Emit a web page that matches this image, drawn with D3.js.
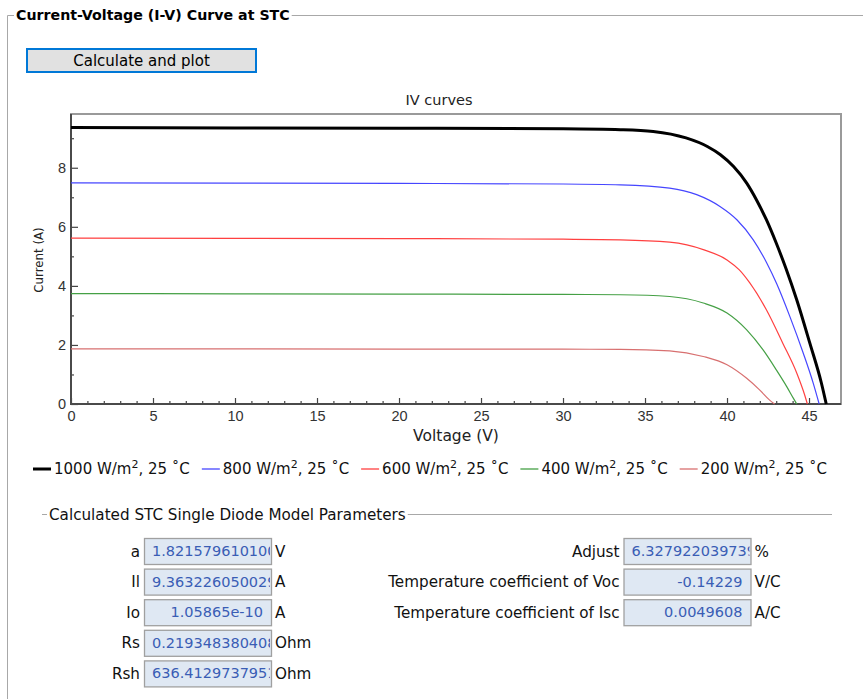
<!DOCTYPE html>
<html>
<head>
<meta charset="utf-8">
<script src="https://cdn.jsdelivr.net/npm/d3@7"></script>
<style>
  body { margin: 0; background: #fff; }
  svg { display: block; font-family: 'DejaVu Sans', 'Open Sans', sans-serif; }
</style>
</head>
<body>
<div id="chart"></div>
<script>
// irradiance levels (W/m2), all at 25 C
const irradiance = [1000, 800, 600, 400, 200];
const cellTemp = 25;

// I-V points: voltage (V) / current (A)
const v1000 = [0, 10, 20, 30, 33.5, 35.5, 37.5, 38.8, 39.6, 40.4, 41.2, 41.8, 42.4, 43.0, 43.6, 44.25, 45.05, 45.75, 46.05];
const i1000 = [9.36, 9.35, 9.34, 9.32, 9.29, 9.23, 9.01, 8.72, 8.44, 8.04, 7.48, 6.91, 6.24, 5.45, 4.58, 3.53, 2.06, 0.72, 0];
const v800 = [0, 10, 20, 30, 33.5, 36.5, 38.15, 39.57, 40.6, 41.6, 42.4, 43.03, 43.84, 44.65, 45.26, 45.62];
const i800 = [7.49, 7.48, 7.47, 7.45, 7.42, 7.31, 7.09, 6.69, 6.24, 5.56, 4.80, 4.07, 2.95, 1.72, 0.70, 0];
const v600 = [0, 10, 20, 30, 33.5, 36.5, 38.6, 40.0, 40.75, 41.4, 42.4, 43.4, 44.25, 44.75, 44.9];
const i600 = [5.62, 5.61, 5.60, 5.58, 5.56, 5.48, 5.22, 4.88, 4.54, 4.09, 3.19, 2.06, 1.05, 0.28, 0];
const v400 = [0, 10, 20, 30, 33.5, 36.5, 38.55, 40.0, 41.2, 42.2, 43.0, 43.65, 44.05, 44.25];
const i400 = [3.74, 3.73, 3.72, 3.71, 3.70, 3.64, 3.42, 3.08, 2.51, 1.83, 1.16, 0.58, 0.19, 0];
const v200 = [0, 10, 20, 30, 33.5, 36.5, 38.55, 40.0, 41.2, 42.0, 42.6, 42.9];
const i200 = [1.87, 1.865, 1.86, 1.855, 1.85, 1.80, 1.61, 1.33, 0.87, 0.47, 0.13, 0];

const xTicks = [0, 5, 10, 15, 20, 25, 30, 35, 40, 45];
const yTicks = [0, 2, 4, 6, 8];

// calculated STC single diode model parameters
const leftParamLabels = ['a', 'Il', 'Io', 'Rs', 'Rsh'];
const leftParamValues = ['1.821579610100', '9.363226050029', '1.05865e-10', '0.219348380408', '636.4129737951'];
const leftParamUnits = ['V', 'A', 'A', 'Ohm', 'Ohm'];
const rightParamLabels = ['Adjust', 'Temperature coefficient of Voc', 'Temperature coefficient of Isc'];
const rightParamValues = ['6.327922039739', '-0.14229', '0.0049608'];
const rightParamUnits = ['%', 'V/C', 'A/C'];

const plotWidth = 863;
const plotHeight = 699;
const box = { left: 71, right: 841, top: 114, bottom: 404 };
const lineColors = ['#000000', '#4646ff', '#ff4040', '#45a045', '#d87070'];
const lineWidths = [3, 1.2, 1.2, 1.2, 1.2];

const curves = [
  { v: v1000, i: i1000 },
  { v: v800, i: i800 },
  { v: v600, i: i600 },
  { v: v400, i: i400 },
  { v: v200, i: i200 },
];

const svg = d3
  .select('#chart')
  .append('svg')
  .attr('width', plotWidth)
  .attr('height', plotHeight);

// outer group box with bold caption
const caption = svg
  .append('text')
  .attr('x', 16)
  .attr('y', 20)
  .attr('font-size', '14.2px')
  .attr('font-weight', 'bold')
  .attr('fill', '#000')
  .text('Current-Voltage (I-V) Curve at STC');
const captionEnd = 16 + caption.node().getComputedTextLength();
svg
  .append('path')
  .attr('d', 'M7.5,699V15.5H14M' + (captionEnd + 2) + ',15.5H863')
  .attr('fill', 'none')
  .attr('stroke', '#a8a8a8');

// button
svg
  .append('rect')
  .attr('x', 27)
  .attr('y', 49)
  .attr('width', 229)
  .attr('height', 23)
  .attr('fill', '#e1e1e1')
  .attr('stroke', '#0078d7')
  .attr('stroke-width', 2);
svg
  .append('text')
  .attr('x', 141.5)
  .attr('y', 66)
  .attr('text-anchor', 'middle')
  .attr('font-size', '15px')
  .attr('fill', '#000')
  .text('Calculate and plot');

// ---- plot ----
const xScale = d3.scaleLinear().domain([0, 46.95]).range([box.left, box.right]);
const yScale = d3.scaleLinear().domain([0, 9.82]).range([box.bottom, box.top]);

svg
  .append('text')
  .attr('x', 439)
  .attr('y', 105)
  .attr('text-anchor', 'middle')
  .attr('font-size', '14.5px')
  .attr('fill', '#222')
  .text('IV curves');

// frame (top/right lighter)
svg
  .append('rect')
  .attr('x', box.left)
  .attr('y', box.top)
  .attr('width', box.right - box.left)
  .attr('height', box.bottom - box.top)
  .attr('fill', '#fff')
  .attr('stroke', '#9a9a9a')
  .attr('stroke-width', 2);

const minorX = d3.range(0, 47, 1).filter((d) => d % 5 !== 0);
const minorY = [1, 3, 5, 7, 9];

svg
  .append('g')
  .attr('class', 'axis')
  .attr('transform', 'translate(0,' + box.bottom + ')')
  .call(d3.axisBottom(xScale).tickValues(minorX).tickSize(-3).tickFormat(''));
svg
  .append('g')
  .attr('class', 'axis')
  .attr('transform', 'translate(' + box.left + ',0)')
  .call(d3.axisLeft(yScale).tickValues(minorY).tickSize(-3).tickFormat(''));

svg
  .append('g')
  .attr('class', 'axis')
  .attr('id', 'x-axis')
  .attr('transform', 'translate(0,' + box.bottom + ')')
  .call(d3.axisBottom(xScale).tickValues(xTicks).tickSize(-6).tickPadding(7));
svg
  .append('g')
  .attr('class', 'axis')
  .attr('id', 'y-axis')
  .attr('transform', 'translate(' + box.left + ',0)')
  .call(d3.axisLeft(yScale).tickValues(yTicks).tickSize(-7).tickPadding(5));

svg.selectAll('.axis .domain').remove();
svg.selectAll('.axis line').attr('stroke', '#444').attr('stroke-width', 1.2);
svg
  .selectAll('.axis text')
  .attr('font-family', null)
  .attr('font-size', '14.5px')
  .attr('fill', '#333');

// darker left/bottom axis lines
svg
  .append('path')
  .attr('d', 'M' + box.left + ',' + box.top + 'V' + box.bottom + 'H' + box.right)
  .attr('fill', 'none')
  .attr('stroke', '#4a4a4a')
  .attr('stroke-width', 2);

svg
  .append('text')
  .attr('x', 456)
  .attr('y', 441)
  .attr('text-anchor', 'middle')
  .attr('font-size', '15.5px')
  .attr('fill', '#222')
  .text('Voltage (V)');
svg
  .append('text')
  .attr('transform', 'translate(43,260) rotate(-90)')
  .attr('text-anchor', 'middle')
  .attr('font-size', '11.8px')
  .attr('fill', '#222')
  .text('Current (A)');

const line = d3
  .line()
  .x((d) => xScale(d[0]))
  .y((d) => yScale(d[1]))
  .curve(d3.curveMonotoneX);

// draw weakest first so the 1000 W/m2 curve sits on top
curves
  .map((c, k) => ({ c: c, k: k }))
  .reverse()
  .forEach((s) => {
    svg
      .append('path')
      .datum(s.c.v.map((v, j) => [v, s.c.i[j]]))
      .attr('d', line)
      .attr('fill', 'none')
      .attr('stroke', lineColors[s.k])
      .attr('stroke-width', lineWidths[s.k])
      .attr('stroke-linejoin', 'round');
  });

// legend
let lx = 33;
irradiance.forEach((irr, k) => {
  svg
    .append('line')
    .attr('x1', lx)
    .attr('x2', lx + 18)
    .attr('y1', 469)
    .attr('y2', 469)
    .attr('stroke', lineColors[k])
    .attr('stroke-width', k === 0 ? 3 : 1.3);
  const t = svg
    .append('text')
    .attr('x', lx + 21)
    .attr('y', 474)
    .attr('font-size', '15px')
    .attr('fill', '#111');
  t.append('tspan').text(irr + ' W/m');
  t.append('tspan').attr('dy', -6).attr('font-size', '11px').text('2');
  t.append('tspan').attr('dy', 6).text(', ' + cellTemp + ' \u02DAC');
  lx += 21 + t.node().getComputedTextLength() + 12;
});

// ---- parameter group ----
const sub = svg
  .append('text')
  .attr('x', 49)
  .attr('y', 519.5)
  .attr('font-size', '15.2px')
  .attr('fill', '#111')
  .text('Calculated STC Single Diode Model Parameters');
const subEnd = 49 + sub.node().getComputedTextLength();
svg
  .append('path')
  .attr('d', 'M42,514.5H47M' + (subEnd + 2) + ',514.5H832')
  .attr('fill', 'none')
  .attr('stroke', '#a8a8a8');

function paramRows(labels, values, units, boxX, prefix) {
  labels.forEach((lab, k) => {
    const y = 538 + k * 30.6;
    const w = 127;
    const h = 26;
    svg
      .append('text')
      .attr('x', boxX - 4)
      .attr('y', y + 18.5)
      .attr('text-anchor', 'end')
      .attr('font-size', '15.2px')
      .attr('fill', '#111')
      .text(lab);
    svg
      .append('clipPath')
      .attr('id', prefix + k)
      .append('rect')
      .attr('x', boxX + 1)
      .attr('y', y)
      .attr('width', w - 2)
      .attr('height', h);
    svg
      .append('rect')
      .attr('x', boxX + 0.5)
      .attr('y', y + 0.5)
      .attr('width', w)
      .attr('height', h)
      .attr('fill', '#dfe8f3')
      .attr('stroke', '#a0a0a0')
      .attr('stroke-width', 1.3);
    const vt = svg
      .append('text')
      .attr('clip-path', 'url(#' + prefix + k + ')')
      .attr('y', y + 18)
      .attr('font-size', '14.5px')
      .attr('fill', '#3a5db5')
      .text(values[k]);
    if (vt.node().getComputedTextLength() > w - 16) {
      vt.attr('x', boxX + 8);
    } else {
      vt.attr('x', boxX + w - 8).attr('text-anchor', 'end');
    }
    svg
      .append('text')
      .attr('x', boxX + w + 4)
      .attr('y', y + 18.5)
      .attr('font-size', '15.2px')
      .attr('fill', '#111')
      .text(units[k]);
  });
}

paramRows(leftParamLabels, leftParamValues, leftParamUnits, 144, 'clipL');
paramRows(rightParamLabels, rightParamValues, rightParamUnits, 623.5, 'clipR');
</script>
</body>
</html>
